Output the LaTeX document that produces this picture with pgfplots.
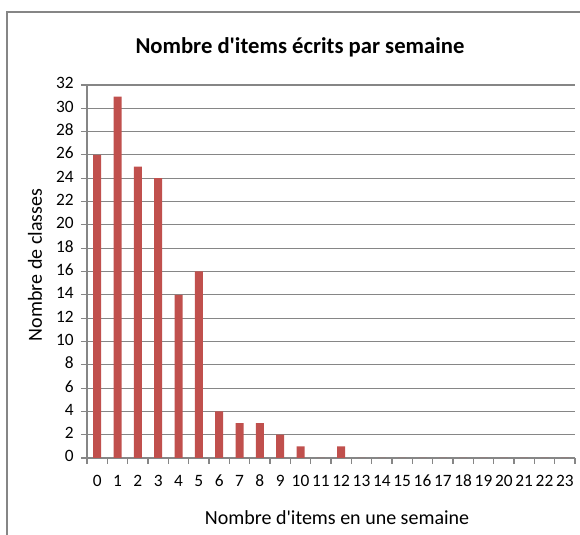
\documentclass[border=0pt]{standalone}
\usepackage{pgfplots}
\pgfplotsset{compat=1.18}
\usepackage{fontspec}
\setmainfont{Carlito}[Ligatures=TeXOff]
\definecolor{barred}{HTML}{C0504D}
\definecolor{gridgray}{HTML}{868686}
\begin{document}
\begin{tikzpicture}[x=1pt,y=1pt]
\useasboundingbox (0,0) rectangle (435,400.5);
\draw[gridgray, line width=0.8pt] (5.25,-5) -- (5.25,391.5) -- (440,391.5);
\node[font=\bfseries\fontsize{17}{20}\selectfont] at (225,365.25) {Nombre d'items écrits par semaine};
\node[rotate=90,font=\fontsize{15}{18}\selectfont] at (26.25,201.75) {Nombre de classes};
\node[font=\fontsize{15}{18}\selectfont] at (252.75,12) {Nombre d'items en une semaine};
\begin{axis}[
  at={(65.25pt,57pt)}, anchor=south west,
  scale only axis, width=366pt, height=279.75pt,
  xmin=-0.5, xmax=23.5, ymin=0, ymax=32,
  axis lines=left, axis line style={-, gridgray, line width=0.8pt},
  xtick={0,...,23}, ytick={0,2,...,32},
  minor xtick={-0.5,0.5,...,23.5},
  major x tick style={draw=none},
  minor x tick style={gridgray, line width=0.8pt},
  y tick style={gridgray, line width=0.8pt},
  tick align=outside, major tick length=4.5pt, minor tick length=4.5pt,
  ymajorgrids, grid style={gridgray, line width=0.8pt},
  /pgf/number format/assume math mode=true,
  typeset ticklabels with strut,
  ticklabel style={font=\fontsize{13}{15}\selectfont},
  xticklabel style={yshift=-3pt},
  yticklabel style={xshift=-2pt},
]
\addplot[ybar, bar width=6pt, fill=barred, draw=none] coordinates {
(0,26) (1,31) (2,25) (3,24) (4,14) (5,16) (6,4) (7,3) (8,3) (9,2) (10,1) (11,0) (12,1)
(13,0) (14,0) (15,0) (16,0) (17,0) (18,0) (19,0) (20,0) (21,0) (22,0) (23,0)};
\end{axis}
\end{tikzpicture}
\end{document}
